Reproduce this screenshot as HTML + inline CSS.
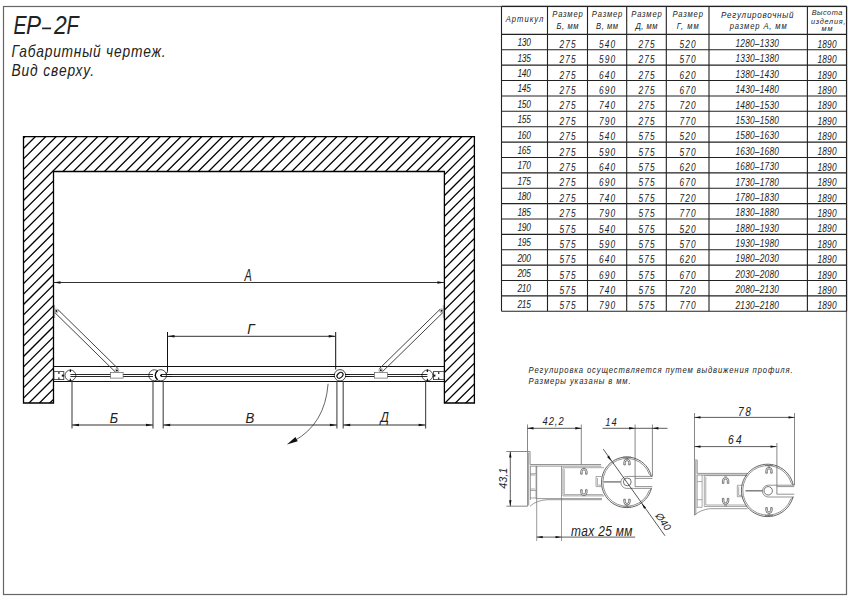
<!DOCTYPE html><html><head><meta charset="utf-8"><style>
html,body{margin:0;padding:0;background:#fff;width:849px;height:600px;overflow:hidden;}
svg{display:block;}
text{font-family:"Liberation Sans", sans-serif;font-style:italic;fill:#222;}
</style></head><body>
<svg width="849" height="600" viewBox="0 0 849 600">
<rect x="3.5" y="6.5" width="843" height="588" fill="none" stroke="#666" stroke-width="1.2"/>
<text x="0" y="0" font-size="25.4" transform="translate(13.41,33.6) scale(0.775,1)">E</text>
<text x="0" y="0" font-size="25.4" transform="translate(26.02,33.6) scale(0.887,1)">P</text>
<text x="0" y="0" font-size="25.4" transform="translate(54.11,33.6) scale(0.903,1)">2</text>
<text x="0" y="0" font-size="25.4" transform="translate(66.40,33.6) scale(0.787,1)">F</text>
<line x1="42.1" y1="28.4" x2="51.1" y2="28.4" stroke="#222" stroke-width="1.7"/>
<text x="0" y="0" font-size="16.2" text-anchor="start" transform="translate(11.5,56.6) scale(0.85,1)" textLength="181.18" lengthAdjust="spacing" >Габаритный чертеж.</text>
<text x="0" y="0" font-size="16.2" text-anchor="start" transform="translate(11.5,76.3) scale(0.85,1)" textLength="97.06" lengthAdjust="spacing" >Вид сверху.</text>
<defs><clipPath id="wc"><path d="M23.5,136.6 L474.4,136.6 L474.4,403.0 L444.4,403.0 L444.4,171.5 L53.5,171.5 L53.5,403.0 L23.5,403.0 Z"/></clipPath></defs>
<path d="M-279.20,420L40.80,100M-268.80,420L51.20,100M-258.40,420L61.60,100M-248.00,420L72.00,100M-237.60,420L82.40,100M-227.20,420L92.80,100M-216.80,420L103.20,100M-206.40,420L113.60,100M-196.00,420L124.00,100M-185.60,420L134.40,100M-175.20,420L144.80,100M-164.80,420L155.20,100M-154.40,420L165.60,100M-144.00,420L176.00,100M-133.60,420L186.40,100M-123.20,420L196.80,100M-112.80,420L207.20,100M-102.40,420L217.60,100M-92.00,420L228.00,100M-81.60,420L238.40,100M-71.20,420L248.80,100M-60.80,420L259.20,100M-50.40,420L269.60,100M-40.00,420L280.00,100M-29.60,420L290.40,100M-19.20,420L300.80,100M-8.80,420L311.20,100M1.60,420L321.60,100M12.00,420L332.00,100M22.40,420L342.40,100M32.80,420L352.80,100M43.20,420L363.20,100M53.60,420L373.60,100M64.00,420L384.00,100M74.40,420L394.40,100M84.80,420L404.80,100M95.20,420L415.20,100M105.60,420L425.60,100M116.00,420L436.00,100M126.40,420L446.40,100M136.80,420L456.80,100M147.20,420L467.20,100M157.60,420L477.60,100M168.00,420L488.00,100M178.40,420L498.40,100M188.80,420L508.80,100M199.20,420L519.20,100M209.60,420L529.60,100M220.00,420L540.00,100M230.40,420L550.40,100M240.80,420L560.80,100M251.20,420L571.20,100M261.60,420L581.60,100M272.00,420L592.00,100M282.40,420L602.40,100M292.80,420L612.80,100M303.20,420L623.20,100M313.60,420L633.60,100M324.00,420L644.00,100M334.40,420L654.40,100M344.80,420L664.80,100M355.20,420L675.20,100M365.60,420L685.60,100M376.00,420L696.00,100M386.40,420L706.40,100M396.80,420L716.80,100M407.20,420L727.20,100M417.60,420L737.60,100M428.00,420L748.00,100M438.40,420L758.40,100M448.80,420L768.80,100M459.20,420L779.20,100M469.60,420L789.60,100" stroke="#000" stroke-width="1.3" clip-path="url(#wc)" fill="none"/>
<path d="M23.5,136.6 L474.4,136.6 L474.4,403.0 L444.4,403.0 L444.4,171.5 L53.5,171.5 L53.5,403.0 L23.5,403.0 Z" fill="none" stroke="#000" stroke-width="1.3"/>
<line x1="53.5" y1="366.5" x2="444.4" y2="366.5" stroke="#111" stroke-width="1.1"/>
<line x1="53.5" y1="381.5" x2="444.4" y2="381.5" stroke="#111" stroke-width="1.1"/>
<path d="M70.4,374.5H427.4M70.4,376.5H427.4" stroke="#111" stroke-width="0.9" fill="none"/>
<rect x="54" y="371.6" width="9.799999999999997" height="8" fill="#fff" stroke="#333" stroke-width="0.8"/>
<path d="M58.9,372V374M58.9,377.5V379.5" stroke="#222" stroke-width="1.2"/>
<path d="M61.8,375.6 L63.8,375.6" stroke="#111" stroke-width="2"/>
<rect x="433.4" y="371.6" width="10.600000000000023" height="8" fill="#fff" stroke="#333" stroke-width="0.8"/>
<path d="M438.7,372V374M438.7,377.5V379.5" stroke="#222" stroke-width="1.2"/>
<path d="M433.4,375.6 L435.4,375.6" stroke="#111" stroke-width="2"/>
<circle cx="70.4" cy="375.4" r="5.4" fill="#fff" stroke="#222" stroke-width="0.8"/>
<path d="M70.4,369.5V372M70.4,378.8V381.3" stroke="#111" stroke-width="1.2"/>
<circle cx="427.4" cy="375.4" r="5.4" fill="#fff" stroke="#222" stroke-width="0.8"/>
<path d="M427.4,369.5V372M427.4,378.8V381.3" stroke="#111" stroke-width="1.2"/>
<path d="M70.4,374.5H76M70.4,376.5H76" stroke="#111" stroke-width="0.9"/>
<path d="M427.4,374.5H421M427.4,376.5H421" stroke="#111" stroke-width="0.9"/>
<circle cx="154.3" cy="375.3" r="5.5" fill="#fff" stroke="#222" stroke-width="0.8"/>
<circle cx="160.8" cy="375.3" r="5.6" fill="#fff" stroke="#222" stroke-width="0.8"/>
<path d="M157.6,370.8 A5.6,5.6 0 0 0 157.6,379.8" stroke="#000" stroke-width="1.3" fill="none"/>
<circle cx="161" cy="375.4" r="1" fill="#000"/>
<path d="M148.8,374.5H153M148.8,376.5H153M161,374.5H172M161,376.5H172" stroke="#111" stroke-width="0.9"/>
<circle cx="340" cy="375.3" r="5.7" fill="#fff" stroke="#222" stroke-width="0.8"/>
<ellipse cx="340" cy="375.3" rx="3.4" ry="2.4" transform="rotate(-40 340 375.3)" fill="#fff" stroke="#111" stroke-width="1.1"/>
<path d="M330,374.5H335M330,376.5H335M345,374.5H350M345,376.5H350" stroke="#111" stroke-width="0.9"/>
<path d="M54.79,312.53L115.39,372.03M57.81,309.47L118.41,368.97" stroke="#444" stroke-width="1" fill="none"/>
<circle cx="56.3" cy="311.0" r="1.9" fill="#fff" stroke="#777" stroke-width="0.6"/>
<circle cx="56.3" cy="311.0" r="1.0" fill="#111"/>
<circle cx="116.9" cy="370.5" r="1.9" fill="#fff" stroke="#777" stroke-width="0.6"/>
<circle cx="116.9" cy="370.5" r="1.0" fill="#111"/>
<path d="M54.6,305V318" stroke="#888" stroke-width="1"/>
<path d="M440.10,309.26L379.30,368.76M443.10,312.34L382.30,371.84" stroke="#444" stroke-width="1" fill="none"/>
<circle cx="441.6" cy="310.8" r="1.9" fill="#fff" stroke="#777" stroke-width="0.6"/>
<circle cx="441.6" cy="310.8" r="1.0" fill="#111"/>
<circle cx="380.8" cy="370.3" r="1.9" fill="#fff" stroke="#777" stroke-width="0.6"/>
<circle cx="380.8" cy="370.3" r="1.0" fill="#111"/>
<path d="M443.4,305V318" stroke="#888" stroke-width="1"/>
<rect x="110.6" y="372.4" width="12.5" height="5.7" fill="#fff" stroke="#666" stroke-width="0.7"/>
<rect x="374.4" y="372.4" width="13" height="5.7" fill="#fff" stroke="#666" stroke-width="0.7"/>
<line x1="53.5" y1="282.5" x2="444.4" y2="282.5" stroke="#333" stroke-width="1"/>
<path d="M53.50,282.50L60.50,281.20L60.50,283.80Z" fill="#111"/>
<path d="M444.40,282.50L437.40,283.80L437.40,281.20Z" fill="#111"/>
<text x="0" y="0" font-size="15.8" transform="translate(244.55,280.8) scale(0.695,1)">A</text>
<line x1="167.5" y1="332" x2="167.5" y2="371.5" stroke="#111" stroke-width="1"/>
<path d="M167.5,371.5 Q167.5,373 166,373.5" stroke="#111" fill="none"/>
<line x1="335.7" y1="332" x2="335.7" y2="369.5" stroke="#111" stroke-width="1"/>
<line x1="167.5" y1="336.3" x2="335.7" y2="336.3" stroke="#333" stroke-width="1"/>
<path d="M167.50,336.30L174.50,335.00L174.50,337.60Z" fill="#111"/>
<path d="M335.70,336.30L328.70,337.60L328.70,335.00Z" fill="#111"/>
<text x="0" y="0" font-size="14.3" transform="translate(247.19,333.7) scale(0.949,1)">Г</text>
<line x1="72.0" y1="381.5" x2="72.0" y2="428.6" stroke="#555" stroke-width="1.2"/>
<line x1="153.0" y1="381.5" x2="153.0" y2="428.6" stroke="#555" stroke-width="1.2"/>
<line x1="163.2" y1="381.5" x2="163.2" y2="428.6" stroke="#555" stroke-width="1.2"/>
<line x1="336.9" y1="381.5" x2="336.9" y2="428.6" stroke="#555" stroke-width="1.2"/>
<line x1="343.2" y1="381.5" x2="343.2" y2="428.6" stroke="#555" stroke-width="1.2"/>
<line x1="425.6" y1="381.5" x2="425.6" y2="428.6" stroke="#555" stroke-width="1.2"/>
<line x1="72.0" y1="425.0" x2="153.0" y2="425.0" stroke="#333" stroke-width="1"/>
<path d="M72.00,425.00L79.00,423.70L79.00,426.30Z" fill="#111"/>
<path d="M153.00,425.00L146.00,426.30L146.00,423.70Z" fill="#111"/>
<line x1="163.2" y1="425.0" x2="336.9" y2="425.0" stroke="#333" stroke-width="1"/>
<path d="M163.20,425.00L170.20,423.70L170.20,426.30Z" fill="#111"/>
<path d="M336.90,425.00L329.90,426.30L329.90,423.70Z" fill="#111"/>
<line x1="343.2" y1="425.0" x2="425.6" y2="425.0" stroke="#333" stroke-width="1"/>
<path d="M343.20,425.00L350.20,423.70L350.20,426.30Z" fill="#111"/>
<path d="M425.60,425.00L418.60,426.30L418.60,423.70Z" fill="#111"/>
<text x="0" y="0" font-size="13.9" transform="translate(109.82,422.6) scale(0.922,1)">Б</text>
<text x="0" y="0" font-size="13.9" transform="translate(245.50,422.6) scale(0.951,1)">В</text>
<text x="0" y="0" font-size="13.9" transform="translate(380.47,421.6) scale(0.856,1)">Д</text>
<path d="M328.1,383.8 Q325,424 294,441" fill="none" stroke="#333" stroke-width="0.75"/>
<path d="M286.90,444.40L295.45,437.12L297.71,441.34Z" fill="#111"/>
<path d="M501.5,6.4V311.3M547.5,6.4V311.3M587.5,6.4V311.3M626.7,6.4V311.3M666.3,6.4V311.3M709.0,6.4V311.3M807.4,6.4V311.3M846.6,6.4V311.3M501.5,6.4H846.6M501.5,34.40H846.6M501.5,49.78H846.6M501.5,65.17H846.6M501.5,80.55H846.6M501.5,95.93H846.6M501.5,111.32H846.6M501.5,126.70H846.6M501.5,142.08H846.6M501.5,157.47H846.6M501.5,172.85H846.6M501.5,188.23H846.6M501.5,203.62H846.6M501.5,219.00H846.6M501.5,234.38H846.6M501.5,249.77H846.6M501.5,265.15H846.6M501.5,280.53H846.6M501.5,295.92H846.6M501.5,311.30H846.6" stroke="#222" stroke-width="1.1" fill="none"/>
<text x="0" y="0" font-size="9" text-anchor="middle" transform="translate(524.50,22.20) scale(0.85,1)" textLength="44.24" lengthAdjust="spacing" >Артикул</text>
<text x="0" y="0" font-size="9" text-anchor="middle" transform="translate(567.50,16.70) scale(0.85,1)" textLength="35.88" lengthAdjust="spacing" >Размер</text>
<text x="0" y="0" font-size="9" text-anchor="middle" transform="translate(567.50,28.50) scale(0.85,1)" textLength="25.88" lengthAdjust="spacing" >Б, мм</text>
<text x="0" y="0" font-size="9" text-anchor="middle" transform="translate(607.10,16.70) scale(0.85,1)" textLength="35.88" lengthAdjust="spacing" >Размер</text>
<text x="0" y="0" font-size="9" text-anchor="middle" transform="translate(607.10,28.50) scale(0.85,1)" textLength="25.88" lengthAdjust="spacing" >В, мм</text>
<text x="0" y="0" font-size="9" text-anchor="middle" transform="translate(646.50,16.70) scale(0.85,1)" textLength="35.88" lengthAdjust="spacing" >Размер</text>
<text x="0" y="0" font-size="9" text-anchor="middle" transform="translate(646.50,28.50) scale(0.85,1)" textLength="25.88" lengthAdjust="spacing" >Д, мм</text>
<text x="0" y="0" font-size="9" text-anchor="middle" transform="translate(687.65,16.70) scale(0.85,1)" textLength="35.88" lengthAdjust="spacing" >Размер</text>
<text x="0" y="0" font-size="9" text-anchor="middle" transform="translate(687.65,28.50) scale(0.85,1)" textLength="25.88" lengthAdjust="spacing" >Г, мм</text>
<text x="0" y="0" font-size="9.5" text-anchor="middle" transform="translate(757.20,17.50) scale(0.85,1)" textLength="85.29" lengthAdjust="spacing" >Регулировочный</text>
<text x="0" y="0" font-size="9" text-anchor="middle" transform="translate(758.20,29.00) scale(0.85,1)" textLength="67.06" lengthAdjust="spacing" >размер А, мм</text>
<text x="0" y="0" font-size="8" text-anchor="middle" transform="translate(827.00,14.9) scale(0.92,1)" textLength="33.15" lengthAdjust="spacing" >Высота</text>
<text x="0" y="0" font-size="8" text-anchor="middle" transform="translate(828.20,23.7) scale(0.92,1)" textLength="37.50" lengthAdjust="spacing" >изделия,</text>
<text x="0" y="0" font-size="8" text-anchor="middle" transform="translate(827.00,31.2) scale(0.92,1)" textLength="11.96" lengthAdjust="spacing" >мм</text>
<text x="0" y="0" font-size="10.2" text-anchor="middle" transform="translate(524.20,46.30) scale(0.82,1)" textLength="16.59" lengthAdjust="spacing">130</text>
<text x="0" y="0" font-size="10.2" text-anchor="middle" transform="translate(567.50,47.90) scale(0.82,1)" textLength="19.76" lengthAdjust="spacing">275</text>
<text x="0" y="0" font-size="10.2" text-anchor="middle" transform="translate(607.10,47.90) scale(0.82,1)" textLength="19.76" lengthAdjust="spacing">540</text>
<text x="0" y="0" font-size="10.2" text-anchor="middle" transform="translate(646.50,47.90) scale(0.82,1)" textLength="19.76" lengthAdjust="spacing">275</text>
<text x="0" y="0" font-size="10.2" text-anchor="middle" transform="translate(687.65,47.90) scale(0.82,1)" textLength="19.76" lengthAdjust="spacing">520</text>
<text x="0" y="0" font-size="10.2" text-anchor="middle" transform="translate(757.20,47.10) scale(0.82,1)" textLength="52.93" lengthAdjust="spacing">1280–1330</text>
<text x="0" y="0" font-size="10.2" text-anchor="middle" transform="translate(827.00,47.80) scale(0.82,1)" textLength="23.41" lengthAdjust="spacing">1890</text>
<text x="0" y="0" font-size="10.2" text-anchor="middle" transform="translate(524.20,61.68) scale(0.82,1)" textLength="16.59" lengthAdjust="spacing">135</text>
<text x="0" y="0" font-size="10.2" text-anchor="middle" transform="translate(567.50,63.28) scale(0.82,1)" textLength="19.76" lengthAdjust="spacing">275</text>
<text x="0" y="0" font-size="10.2" text-anchor="middle" transform="translate(607.10,63.28) scale(0.82,1)" textLength="19.76" lengthAdjust="spacing">590</text>
<text x="0" y="0" font-size="10.2" text-anchor="middle" transform="translate(646.50,63.28) scale(0.82,1)" textLength="19.76" lengthAdjust="spacing">275</text>
<text x="0" y="0" font-size="10.2" text-anchor="middle" transform="translate(687.65,63.28) scale(0.82,1)" textLength="19.76" lengthAdjust="spacing">570</text>
<text x="0" y="0" font-size="10.2" text-anchor="middle" transform="translate(757.20,62.48) scale(0.82,1)" textLength="52.93" lengthAdjust="spacing">1330–1380</text>
<text x="0" y="0" font-size="10.2" text-anchor="middle" transform="translate(827.00,63.18) scale(0.82,1)" textLength="23.41" lengthAdjust="spacing">1890</text>
<text x="0" y="0" font-size="10.2" text-anchor="middle" transform="translate(524.20,77.07) scale(0.82,1)" textLength="16.59" lengthAdjust="spacing">140</text>
<text x="0" y="0" font-size="10.2" text-anchor="middle" transform="translate(567.50,78.67) scale(0.82,1)" textLength="19.76" lengthAdjust="spacing">275</text>
<text x="0" y="0" font-size="10.2" text-anchor="middle" transform="translate(607.10,78.67) scale(0.82,1)" textLength="19.76" lengthAdjust="spacing">640</text>
<text x="0" y="0" font-size="10.2" text-anchor="middle" transform="translate(646.50,78.67) scale(0.82,1)" textLength="19.76" lengthAdjust="spacing">275</text>
<text x="0" y="0" font-size="10.2" text-anchor="middle" transform="translate(687.65,78.67) scale(0.82,1)" textLength="19.76" lengthAdjust="spacing">620</text>
<text x="0" y="0" font-size="10.2" text-anchor="middle" transform="translate(757.20,77.87) scale(0.82,1)" textLength="52.93" lengthAdjust="spacing">1380–1430</text>
<text x="0" y="0" font-size="10.2" text-anchor="middle" transform="translate(827.00,78.57) scale(0.82,1)" textLength="23.41" lengthAdjust="spacing">1890</text>
<text x="0" y="0" font-size="10.2" text-anchor="middle" transform="translate(524.20,92.45) scale(0.82,1)" textLength="16.59" lengthAdjust="spacing">145</text>
<text x="0" y="0" font-size="10.2" text-anchor="middle" transform="translate(567.50,94.05) scale(0.82,1)" textLength="19.76" lengthAdjust="spacing">275</text>
<text x="0" y="0" font-size="10.2" text-anchor="middle" transform="translate(607.10,94.05) scale(0.82,1)" textLength="19.76" lengthAdjust="spacing">690</text>
<text x="0" y="0" font-size="10.2" text-anchor="middle" transform="translate(646.50,94.05) scale(0.82,1)" textLength="19.76" lengthAdjust="spacing">275</text>
<text x="0" y="0" font-size="10.2" text-anchor="middle" transform="translate(687.65,94.05) scale(0.82,1)" textLength="19.76" lengthAdjust="spacing">670</text>
<text x="0" y="0" font-size="10.2" text-anchor="middle" transform="translate(757.20,93.25) scale(0.82,1)" textLength="52.93" lengthAdjust="spacing">1430–1480</text>
<text x="0" y="0" font-size="10.2" text-anchor="middle" transform="translate(827.00,93.95) scale(0.82,1)" textLength="23.41" lengthAdjust="spacing">1890</text>
<text x="0" y="0" font-size="10.2" text-anchor="middle" transform="translate(524.20,107.83) scale(0.82,1)" textLength="16.59" lengthAdjust="spacing">150</text>
<text x="0" y="0" font-size="10.2" text-anchor="middle" transform="translate(567.50,109.43) scale(0.82,1)" textLength="19.76" lengthAdjust="spacing">275</text>
<text x="0" y="0" font-size="10.2" text-anchor="middle" transform="translate(607.10,109.43) scale(0.82,1)" textLength="19.76" lengthAdjust="spacing">740</text>
<text x="0" y="0" font-size="10.2" text-anchor="middle" transform="translate(646.50,109.43) scale(0.82,1)" textLength="19.76" lengthAdjust="spacing">275</text>
<text x="0" y="0" font-size="10.2" text-anchor="middle" transform="translate(687.65,109.43) scale(0.82,1)" textLength="19.76" lengthAdjust="spacing">720</text>
<text x="0" y="0" font-size="10.2" text-anchor="middle" transform="translate(757.20,108.63) scale(0.82,1)" textLength="52.93" lengthAdjust="spacing">1480–1530</text>
<text x="0" y="0" font-size="10.2" text-anchor="middle" transform="translate(827.00,109.33) scale(0.82,1)" textLength="23.41" lengthAdjust="spacing">1890</text>
<text x="0" y="0" font-size="10.2" text-anchor="middle" transform="translate(524.20,123.22) scale(0.82,1)" textLength="16.59" lengthAdjust="spacing">155</text>
<text x="0" y="0" font-size="10.2" text-anchor="middle" transform="translate(567.50,124.82) scale(0.82,1)" textLength="19.76" lengthAdjust="spacing">275</text>
<text x="0" y="0" font-size="10.2" text-anchor="middle" transform="translate(607.10,124.82) scale(0.82,1)" textLength="19.76" lengthAdjust="spacing">790</text>
<text x="0" y="0" font-size="10.2" text-anchor="middle" transform="translate(646.50,124.82) scale(0.82,1)" textLength="19.76" lengthAdjust="spacing">275</text>
<text x="0" y="0" font-size="10.2" text-anchor="middle" transform="translate(687.65,124.82) scale(0.82,1)" textLength="19.76" lengthAdjust="spacing">770</text>
<text x="0" y="0" font-size="10.2" text-anchor="middle" transform="translate(757.20,124.02) scale(0.82,1)" textLength="52.93" lengthAdjust="spacing">1530–1580</text>
<text x="0" y="0" font-size="10.2" text-anchor="middle" transform="translate(827.00,124.72) scale(0.82,1)" textLength="23.41" lengthAdjust="spacing">1890</text>
<text x="0" y="0" font-size="10.2" text-anchor="middle" transform="translate(524.20,138.60) scale(0.82,1)" textLength="16.59" lengthAdjust="spacing">160</text>
<text x="0" y="0" font-size="10.2" text-anchor="middle" transform="translate(567.50,140.20) scale(0.82,1)" textLength="19.76" lengthAdjust="spacing">275</text>
<text x="0" y="0" font-size="10.2" text-anchor="middle" transform="translate(607.10,140.20) scale(0.82,1)" textLength="19.76" lengthAdjust="spacing">540</text>
<text x="0" y="0" font-size="10.2" text-anchor="middle" transform="translate(646.50,140.20) scale(0.82,1)" textLength="19.76" lengthAdjust="spacing">575</text>
<text x="0" y="0" font-size="10.2" text-anchor="middle" transform="translate(687.65,140.20) scale(0.82,1)" textLength="19.76" lengthAdjust="spacing">520</text>
<text x="0" y="0" font-size="10.2" text-anchor="middle" transform="translate(757.20,139.40) scale(0.82,1)" textLength="52.93" lengthAdjust="spacing">1580–1630</text>
<text x="0" y="0" font-size="10.2" text-anchor="middle" transform="translate(827.00,140.10) scale(0.82,1)" textLength="23.41" lengthAdjust="spacing">1890</text>
<text x="0" y="0" font-size="10.2" text-anchor="middle" transform="translate(524.20,153.98) scale(0.82,1)" textLength="16.59" lengthAdjust="spacing">165</text>
<text x="0" y="0" font-size="10.2" text-anchor="middle" transform="translate(567.50,155.58) scale(0.82,1)" textLength="19.76" lengthAdjust="spacing">275</text>
<text x="0" y="0" font-size="10.2" text-anchor="middle" transform="translate(607.10,155.58) scale(0.82,1)" textLength="19.76" lengthAdjust="spacing">590</text>
<text x="0" y="0" font-size="10.2" text-anchor="middle" transform="translate(646.50,155.58) scale(0.82,1)" textLength="19.76" lengthAdjust="spacing">575</text>
<text x="0" y="0" font-size="10.2" text-anchor="middle" transform="translate(687.65,155.58) scale(0.82,1)" textLength="19.76" lengthAdjust="spacing">570</text>
<text x="0" y="0" font-size="10.2" text-anchor="middle" transform="translate(757.20,154.78) scale(0.82,1)" textLength="52.93" lengthAdjust="spacing">1630–1680</text>
<text x="0" y="0" font-size="10.2" text-anchor="middle" transform="translate(827.00,155.48) scale(0.82,1)" textLength="23.41" lengthAdjust="spacing">1890</text>
<text x="0" y="0" font-size="10.2" text-anchor="middle" transform="translate(524.20,169.37) scale(0.82,1)" textLength="16.59" lengthAdjust="spacing">170</text>
<text x="0" y="0" font-size="10.2" text-anchor="middle" transform="translate(567.50,170.97) scale(0.82,1)" textLength="19.76" lengthAdjust="spacing">275</text>
<text x="0" y="0" font-size="10.2" text-anchor="middle" transform="translate(607.10,170.97) scale(0.82,1)" textLength="19.76" lengthAdjust="spacing">640</text>
<text x="0" y="0" font-size="10.2" text-anchor="middle" transform="translate(646.50,170.97) scale(0.82,1)" textLength="19.76" lengthAdjust="spacing">575</text>
<text x="0" y="0" font-size="10.2" text-anchor="middle" transform="translate(687.65,170.97) scale(0.82,1)" textLength="19.76" lengthAdjust="spacing">620</text>
<text x="0" y="0" font-size="10.2" text-anchor="middle" transform="translate(757.20,170.17) scale(0.82,1)" textLength="52.93" lengthAdjust="spacing">1680–1730</text>
<text x="0" y="0" font-size="10.2" text-anchor="middle" transform="translate(827.00,170.87) scale(0.82,1)" textLength="23.41" lengthAdjust="spacing">1890</text>
<text x="0" y="0" font-size="10.2" text-anchor="middle" transform="translate(524.20,184.75) scale(0.82,1)" textLength="16.59" lengthAdjust="spacing">175</text>
<text x="0" y="0" font-size="10.2" text-anchor="middle" transform="translate(567.50,186.35) scale(0.82,1)" textLength="19.76" lengthAdjust="spacing">275</text>
<text x="0" y="0" font-size="10.2" text-anchor="middle" transform="translate(607.10,186.35) scale(0.82,1)" textLength="19.76" lengthAdjust="spacing">690</text>
<text x="0" y="0" font-size="10.2" text-anchor="middle" transform="translate(646.50,186.35) scale(0.82,1)" textLength="19.76" lengthAdjust="spacing">575</text>
<text x="0" y="0" font-size="10.2" text-anchor="middle" transform="translate(687.65,186.35) scale(0.82,1)" textLength="19.76" lengthAdjust="spacing">670</text>
<text x="0" y="0" font-size="10.2" text-anchor="middle" transform="translate(757.20,185.55) scale(0.82,1)" textLength="52.93" lengthAdjust="spacing">1730–1780</text>
<text x="0" y="0" font-size="10.2" text-anchor="middle" transform="translate(827.00,186.25) scale(0.82,1)" textLength="23.41" lengthAdjust="spacing">1890</text>
<text x="0" y="0" font-size="10.2" text-anchor="middle" transform="translate(524.20,200.13) scale(0.82,1)" textLength="16.59" lengthAdjust="spacing">180</text>
<text x="0" y="0" font-size="10.2" text-anchor="middle" transform="translate(567.50,201.73) scale(0.82,1)" textLength="19.76" lengthAdjust="spacing">275</text>
<text x="0" y="0" font-size="10.2" text-anchor="middle" transform="translate(607.10,201.73) scale(0.82,1)" textLength="19.76" lengthAdjust="spacing">740</text>
<text x="0" y="0" font-size="10.2" text-anchor="middle" transform="translate(646.50,201.73) scale(0.82,1)" textLength="19.76" lengthAdjust="spacing">575</text>
<text x="0" y="0" font-size="10.2" text-anchor="middle" transform="translate(687.65,201.73) scale(0.82,1)" textLength="19.76" lengthAdjust="spacing">720</text>
<text x="0" y="0" font-size="10.2" text-anchor="middle" transform="translate(757.20,200.93) scale(0.82,1)" textLength="52.93" lengthAdjust="spacing">1780–1830</text>
<text x="0" y="0" font-size="10.2" text-anchor="middle" transform="translate(827.00,201.63) scale(0.82,1)" textLength="23.41" lengthAdjust="spacing">1890</text>
<text x="0" y="0" font-size="10.2" text-anchor="middle" transform="translate(524.20,215.52) scale(0.82,1)" textLength="16.59" lengthAdjust="spacing">185</text>
<text x="0" y="0" font-size="10.2" text-anchor="middle" transform="translate(567.50,217.12) scale(0.82,1)" textLength="19.76" lengthAdjust="spacing">275</text>
<text x="0" y="0" font-size="10.2" text-anchor="middle" transform="translate(607.10,217.12) scale(0.82,1)" textLength="19.76" lengthAdjust="spacing">790</text>
<text x="0" y="0" font-size="10.2" text-anchor="middle" transform="translate(646.50,217.12) scale(0.82,1)" textLength="19.76" lengthAdjust="spacing">575</text>
<text x="0" y="0" font-size="10.2" text-anchor="middle" transform="translate(687.65,217.12) scale(0.82,1)" textLength="19.76" lengthAdjust="spacing">770</text>
<text x="0" y="0" font-size="10.2" text-anchor="middle" transform="translate(757.20,216.32) scale(0.82,1)" textLength="52.93" lengthAdjust="spacing">1830–1880</text>
<text x="0" y="0" font-size="10.2" text-anchor="middle" transform="translate(827.00,217.02) scale(0.82,1)" textLength="23.41" lengthAdjust="spacing">1890</text>
<text x="0" y="0" font-size="10.2" text-anchor="middle" transform="translate(524.20,230.90) scale(0.82,1)" textLength="16.59" lengthAdjust="spacing">190</text>
<text x="0" y="0" font-size="10.2" text-anchor="middle" transform="translate(567.50,232.50) scale(0.82,1)" textLength="19.76" lengthAdjust="spacing">575</text>
<text x="0" y="0" font-size="10.2" text-anchor="middle" transform="translate(607.10,232.50) scale(0.82,1)" textLength="19.76" lengthAdjust="spacing">540</text>
<text x="0" y="0" font-size="10.2" text-anchor="middle" transform="translate(646.50,232.50) scale(0.82,1)" textLength="19.76" lengthAdjust="spacing">575</text>
<text x="0" y="0" font-size="10.2" text-anchor="middle" transform="translate(687.65,232.50) scale(0.82,1)" textLength="19.76" lengthAdjust="spacing">520</text>
<text x="0" y="0" font-size="10.2" text-anchor="middle" transform="translate(757.20,231.70) scale(0.82,1)" textLength="52.93" lengthAdjust="spacing">1880–1930</text>
<text x="0" y="0" font-size="10.2" text-anchor="middle" transform="translate(827.00,232.40) scale(0.82,1)" textLength="23.41" lengthAdjust="spacing">1890</text>
<text x="0" y="0" font-size="10.2" text-anchor="middle" transform="translate(524.20,246.28) scale(0.82,1)" textLength="16.59" lengthAdjust="spacing">195</text>
<text x="0" y="0" font-size="10.2" text-anchor="middle" transform="translate(567.50,247.88) scale(0.82,1)" textLength="19.76" lengthAdjust="spacing">575</text>
<text x="0" y="0" font-size="10.2" text-anchor="middle" transform="translate(607.10,247.88) scale(0.82,1)" textLength="19.76" lengthAdjust="spacing">590</text>
<text x="0" y="0" font-size="10.2" text-anchor="middle" transform="translate(646.50,247.88) scale(0.82,1)" textLength="19.76" lengthAdjust="spacing">575</text>
<text x="0" y="0" font-size="10.2" text-anchor="middle" transform="translate(687.65,247.88) scale(0.82,1)" textLength="19.76" lengthAdjust="spacing">570</text>
<text x="0" y="0" font-size="10.2" text-anchor="middle" transform="translate(757.20,247.08) scale(0.82,1)" textLength="52.93" lengthAdjust="spacing">1930–1980</text>
<text x="0" y="0" font-size="10.2" text-anchor="middle" transform="translate(827.00,247.78) scale(0.82,1)" textLength="23.41" lengthAdjust="spacing">1890</text>
<text x="0" y="0" font-size="10.2" text-anchor="middle" transform="translate(524.20,261.67) scale(0.82,1)" textLength="16.59" lengthAdjust="spacing">200</text>
<text x="0" y="0" font-size="10.2" text-anchor="middle" transform="translate(567.50,263.27) scale(0.82,1)" textLength="19.76" lengthAdjust="spacing">575</text>
<text x="0" y="0" font-size="10.2" text-anchor="middle" transform="translate(607.10,263.27) scale(0.82,1)" textLength="19.76" lengthAdjust="spacing">640</text>
<text x="0" y="0" font-size="10.2" text-anchor="middle" transform="translate(646.50,263.27) scale(0.82,1)" textLength="19.76" lengthAdjust="spacing">575</text>
<text x="0" y="0" font-size="10.2" text-anchor="middle" transform="translate(687.65,263.27) scale(0.82,1)" textLength="19.76" lengthAdjust="spacing">620</text>
<text x="0" y="0" font-size="10.2" text-anchor="middle" transform="translate(757.20,262.47) scale(0.82,1)" textLength="52.93" lengthAdjust="spacing">1980–2030</text>
<text x="0" y="0" font-size="10.2" text-anchor="middle" transform="translate(827.00,263.17) scale(0.82,1)" textLength="23.41" lengthAdjust="spacing">1890</text>
<text x="0" y="0" font-size="10.2" text-anchor="middle" transform="translate(524.20,277.05) scale(0.82,1)" textLength="16.59" lengthAdjust="spacing">205</text>
<text x="0" y="0" font-size="10.2" text-anchor="middle" transform="translate(567.50,278.65) scale(0.82,1)" textLength="19.76" lengthAdjust="spacing">575</text>
<text x="0" y="0" font-size="10.2" text-anchor="middle" transform="translate(607.10,278.65) scale(0.82,1)" textLength="19.76" lengthAdjust="spacing">690</text>
<text x="0" y="0" font-size="10.2" text-anchor="middle" transform="translate(646.50,278.65) scale(0.82,1)" textLength="19.76" lengthAdjust="spacing">575</text>
<text x="0" y="0" font-size="10.2" text-anchor="middle" transform="translate(687.65,278.65) scale(0.82,1)" textLength="19.76" lengthAdjust="spacing">670</text>
<text x="0" y="0" font-size="10.2" text-anchor="middle" transform="translate(757.20,277.85) scale(0.82,1)" textLength="52.93" lengthAdjust="spacing">2030–2080</text>
<text x="0" y="0" font-size="10.2" text-anchor="middle" transform="translate(827.00,278.55) scale(0.82,1)" textLength="23.41" lengthAdjust="spacing">1890</text>
<text x="0" y="0" font-size="10.2" text-anchor="middle" transform="translate(524.20,292.43) scale(0.82,1)" textLength="16.59" lengthAdjust="spacing">210</text>
<text x="0" y="0" font-size="10.2" text-anchor="middle" transform="translate(567.50,294.03) scale(0.82,1)" textLength="19.76" lengthAdjust="spacing">575</text>
<text x="0" y="0" font-size="10.2" text-anchor="middle" transform="translate(607.10,294.03) scale(0.82,1)" textLength="19.76" lengthAdjust="spacing">740</text>
<text x="0" y="0" font-size="10.2" text-anchor="middle" transform="translate(646.50,294.03) scale(0.82,1)" textLength="19.76" lengthAdjust="spacing">575</text>
<text x="0" y="0" font-size="10.2" text-anchor="middle" transform="translate(687.65,294.03) scale(0.82,1)" textLength="19.76" lengthAdjust="spacing">720</text>
<text x="0" y="0" font-size="10.2" text-anchor="middle" transform="translate(757.20,293.23) scale(0.82,1)" textLength="52.93" lengthAdjust="spacing">2080–2130</text>
<text x="0" y="0" font-size="10.2" text-anchor="middle" transform="translate(827.00,293.93) scale(0.82,1)" textLength="23.41" lengthAdjust="spacing">1890</text>
<text x="0" y="0" font-size="10.2" text-anchor="middle" transform="translate(524.20,307.82) scale(0.82,1)" textLength="16.59" lengthAdjust="spacing">215</text>
<text x="0" y="0" font-size="10.2" text-anchor="middle" transform="translate(567.50,309.42) scale(0.82,1)" textLength="19.76" lengthAdjust="spacing">575</text>
<text x="0" y="0" font-size="10.2" text-anchor="middle" transform="translate(607.10,309.42) scale(0.82,1)" textLength="19.76" lengthAdjust="spacing">790</text>
<text x="0" y="0" font-size="10.2" text-anchor="middle" transform="translate(646.50,309.42) scale(0.82,1)" textLength="19.76" lengthAdjust="spacing">575</text>
<text x="0" y="0" font-size="10.2" text-anchor="middle" transform="translate(687.65,309.42) scale(0.82,1)" textLength="19.76" lengthAdjust="spacing">770</text>
<text x="0" y="0" font-size="10.2" text-anchor="middle" transform="translate(757.20,308.62) scale(0.82,1)" textLength="52.93" lengthAdjust="spacing">2130–2180</text>
<text x="0" y="0" font-size="10.2" text-anchor="middle" transform="translate(827.00,309.32) scale(0.82,1)" textLength="23.41" lengthAdjust="spacing">1890</text>
<text x="0" y="0" font-size="9" text-anchor="start" transform="translate(528.6,372.9) scale(0.85,1)" textLength="310.59" lengthAdjust="spacing" >Регулировка осуществляется путем выдвижения профиля.</text>
<text x="0" y="0" font-size="9" text-anchor="start" transform="translate(528.6,383.9) scale(0.85,1)" textLength="120.00" lengthAdjust="spacing" >Размеры указаны в мм.</text>
<line x1="527.5" y1="424.5" x2="527.5" y2="451.5" stroke="#555" stroke-width="0.7"/>
<line x1="581.3" y1="424.5" x2="581.3" y2="464.5" stroke="#555" stroke-width="0.7"/>
<line x1="527.5" y1="428.3" x2="581.3" y2="428.3" stroke="#333" stroke-width="0.8"/>
<path d="M527.50,428.30L533.50,427.10L533.50,429.50Z" fill="#111"/>
<path d="M581.30,428.30L575.30,429.50L575.30,427.10Z" fill="#111"/>
<text x="0" y="0" font-size="11" text-anchor="middle" transform="translate(553.1,425) scale(0.85,1)" textLength="24.71" lengthAdjust="spacing" >42,2</text>
<line x1="635.1" y1="424.5" x2="635.1" y2="486.6" stroke="#555" stroke-width="0.7"/>
<line x1="652.4" y1="424.5" x2="652.4" y2="476.4" stroke="#555" stroke-width="0.7"/>
<line x1="602.5" y1="428.3" x2="667.5" y2="428.3" stroke="#333" stroke-width="0.8"/>
<path d="M635.10,428.30L629.10,429.50L629.10,427.10Z" fill="#111"/>
<path d="M652.40,428.30L658.40,427.10L658.40,429.50Z" fill="#111"/>
<text x="0" y="0" font-size="11" text-anchor="middle" transform="translate(610.9,425.6) scale(0.85,1)" textLength="13.53" lengthAdjust="spacing" >14</text>
<line x1="510.3" y1="451.5" x2="510.3" y2="506.2" stroke="#333" stroke-width="0.8"/>
<path d="M510.30,451.50L511.50,457.50L509.10,457.50Z" fill="#111"/>
<path d="M510.30,506.20L509.10,500.20L511.50,500.20Z" fill="#111"/>
<line x1="506.3" y1="451.5" x2="527.5" y2="451.5" stroke="#555" stroke-width="0.7"/>
<line x1="506.3" y1="506.2" x2="527.5" y2="506.2" stroke="#555" stroke-width="0.7"/>
<text x="0" y="0" font-size="11" text-anchor="middle" transform="translate(507,478.2) rotate(-90)" textLength="21" lengthAdjust="spacingAndGlyphs">43,1</text>
<path d="M527.5,451.5 V506.2 M528.7,452.5 V505.5 M530.1,451.5 V464.5 M527.5,451.5 H530.1" fill="none" stroke="#707070" stroke-width="0.75"/>
<path d="M530.1,464.5 H601 M530.1,466.1 H601.5" fill="none" stroke="#707070" stroke-width="0.75"/>
<path d="M530.4,466.1 V500 M536.1,466.1 V498.6 M536.7,466.1 V541 M561.5,466.1 V541" fill="none" stroke="#707070" stroke-width="0.7"/>
<path d="M530.4,473.7 H536.1 M530.4,490.5 H536.1 M530.4,498 H536.1 M530.4,475 H535 M530.4,489 H535" fill="none" stroke="#707070" stroke-width="0.6"/>
<path d="M562.9,467.7 H604 M562.9,467.7 V495.9 H604 M564.2,469 V494.6 H603" fill="none" stroke="#707070" stroke-width="0.6"/>
<path d="M530.1,506.2 Q536,500.5 546.9,499.7 H602 M536.1,498.6 H602" fill="none" stroke="#707070" stroke-width="0.7"/>
<path d="M583.1999999999999,467.7 V468.40000000000003 M584.6,467.7 V468.40000000000003" fill="none" stroke="#666" stroke-width="0.6"/>
<path d="M580.6999999999999,474.20000000000005 V471.6 A3.2,3.2 0 0 1 587.1,471.6 V474.20000000000005 H585.6 V471.6 A1.7,1.7 0 0 0 582.1999999999999,471.6 V474.20000000000005 Z" fill="#fff" stroke="#444" stroke-width="0.7"/>
<path d="M583.1999999999999,496.2 V495.5 M584.6,496.2 V495.5" fill="none" stroke="#666" stroke-width="0.6"/>
<path d="M580.6999999999999,489.7 V492.3 A3.2,3.2 0 0 0 587.1,492.3 V489.7 H585.6 V492.3 A1.7,1.7 0 0 1 582.1999999999999,492.3 V489.7 Z" fill="#fff" stroke="#444" stroke-width="0.7"/>
<path d="M596,476.5 H601.5 M596,476.5 V486.6 H601.5 M597.4,478 V485.2 H601" fill="none" stroke="#707070" stroke-width="0.6"/>
<path d="M651.40,476.4 A25.3,25.3 0 1 0 651.35,488.4" fill="none" stroke="#4a4a4a" stroke-width="0.85"/>
<path d="M649.43,474.6 A23.9,23.9 0 1 0 649.36,490.2 M649.7,474.6 L651.6,476.4 M649.7,490.2 L651.5,488.4" fill="none" stroke="#666" stroke-width="0.7"/>
<path d="M652.4,476.4 H626.8 A6,6 0 0 0 626.8,488.4 H652 M652.4,478.4 H635.1 M652.4,486.6 H635.1" fill="none" stroke="#707070" stroke-width="0.75"/>
<circle cx="627.3" cy="481.9" r="3.9" fill="none" stroke="#444" stroke-width="0.75"/>
<path d="M603.5,481.9 H620.8" fill="none" stroke="#777" stroke-width="1.4"/>
<path d="M623,457.1 H631" fill="none" stroke="#666" stroke-width="0.8"/>
<path d="M626.3,457.1 V459.1 M627.7,457.1 V459.1" fill="none" stroke="#666" stroke-width="0.6"/>
<path d="M623.8,464.90000000000003 V462.3 A3.2,3.2 0 0 1 630.2,462.3 V464.90000000000003 H628.7 V462.3 A1.7,1.7 0 0 0 625.3,462.3 V464.90000000000003 Z" fill="#fff" stroke="#444" stroke-width="0.7"/>
<path d="M623,507.0 H631" fill="none" stroke="#666" stroke-width="0.8"/>
<path d="M626.3,507.0 V505.0 M627.7,507.0 V505.0" fill="none" stroke="#666" stroke-width="0.6"/>
<path d="M623.8,499.2 V501.8 A3.2,3.2 0 0 0 630.2,501.8 V499.2 H628.7 V501.8 A1.7,1.7 0 0 1 625.3,501.8 V499.2 Z" fill="#fff" stroke="#444" stroke-width="0.7"/>
<path d="M603.3,449.2 L665,535.8" fill="none" stroke="#222" stroke-width="0.75"/>
<path d="M611.50,461.20L607.04,457.01L609.00,455.62Z" fill="#111"/>
<path d="M641.60,503.20L646.06,507.39L644.10,508.78Z" fill="#111"/>
<text x="0" y="0" font-size="10" text-anchor="middle" transform="translate(660.5,523.5) rotate(54.5)" textLength="19" lengthAdjust="spacingAndGlyphs">Ø40</text>
<line x1="536.7" y1="537.1" x2="635.2" y2="537.1" stroke="#333" stroke-width="0.8"/>
<path d="M536.70,537.10L542.70,535.90L542.70,538.30Z" fill="#111"/>
<path d="M561.50,537.10L555.50,538.30L555.50,535.90Z" fill="#111"/>
<text x="0" y="0" font-size="14" text-anchor="start" transform="translate(571,536) scale(0.85,1)" textLength="72.35" lengthAdjust="spacing" >max 25 мм</text>
<line x1="694.5" y1="413" x2="694.5" y2="460" stroke="#555" stroke-width="0.7"/>
<line x1="794.5" y1="413" x2="794.5" y2="485.2" stroke="#555" stroke-width="0.7"/>
<line x1="776.9" y1="443" x2="776.9" y2="494.2" stroke="#555" stroke-width="0.7"/>
<line x1="694.5" y1="417.4" x2="794.5" y2="417.4" stroke="#333" stroke-width="0.8"/>
<path d="M694.50,417.40L700.50,416.20L700.50,418.60Z" fill="#111"/>
<path d="M794.50,417.40L788.50,418.60L788.50,416.20Z" fill="#111"/>
<text x="0" y="0" font-size="12" text-anchor="middle" transform="translate(744.5,415.6) scale(0.85,1)" textLength="15.29" lengthAdjust="spacing" >78</text>
<line x1="694.5" y1="446.6" x2="776.5" y2="446.6" stroke="#333" stroke-width="0.8"/>
<path d="M694.50,446.60L700.50,445.40L700.50,447.80Z" fill="#111"/>
<path d="M776.50,446.60L770.50,447.80L770.50,445.40Z" fill="#111"/>
<text x="0" y="0" font-size="12" text-anchor="middle" transform="translate(734.8,444.4) scale(0.85,1)" textLength="16.00" lengthAdjust="spacing" >64</text>
<path d="M694.5,460 V515.2 M695.8,461 V514.5 M697.2,460 V473.4 M694.5,460 H697.2" fill="none" stroke="#707070" stroke-width="0.75"/>
<path d="M697.2,473.4 H747.5 M697.2,475 H747" fill="none" stroke="#707070" stroke-width="0.75"/>
<path d="M697.2,475 V508 M702.1,475 V507.3" fill="none" stroke="#707070" stroke-width="0.6"/>
<path d="M697.2,481.6 H702.1 M697.2,499.7 H702.1 M697.2,507.3 H702.1" fill="none" stroke="#707070" stroke-width="0.6"/>
<path d="M704.3,475.6 V506.5 H747 M705.8,477 V505 H746 M704.3,475.6 H747" fill="none" stroke="#707070" stroke-width="0.6"/>
<path d="M694.5,515.2 Q700,510 709.7,508.7 H747.5" fill="none" stroke="#707070" stroke-width="0.7"/>
<path d="M724.9,475.6 V477.6 M726.3000000000001,475.6 V477.6" fill="none" stroke="#666" stroke-width="0.6"/>
<path d="M722.4,483.40000000000003 V480.8 A3.2,3.2 0 0 1 728.8000000000001,480.8 V483.40000000000003 H727.3000000000001 V480.8 A1.7,1.7 0 0 0 723.9,480.8 V483.40000000000003 Z" fill="#fff" stroke="#444" stroke-width="0.7"/>
<path d="M724.9,506.5 V504.2 M726.3000000000001,506.5 V504.2" fill="none" stroke="#666" stroke-width="0.6"/>
<path d="M722.4,498.4 V501.0 A3.2,3.2 0 0 0 728.8000000000001,501.0 V498.4 H727.3000000000001 V501.0 A1.7,1.7 0 0 1 723.9,501.0 V498.4 Z" fill="#fff" stroke="#444" stroke-width="0.7"/>
<path d="M737.3,485.3 H742.5 M737.3,485.3 V496.7 H742.5 M738.7,486.7 V495.3 H742" fill="none" stroke="#707070" stroke-width="0.6"/>
<path d="M793.28,485.2 A26.2,26.2 0 1 0 792.96,497.0" fill="none" stroke="#4a4a4a" stroke-width="0.85"/>
<path d="M791.39,483.4 A24.8,24.8 0 1 0 790.93,498.8 M791.4,483.4 L793.4,485.2 M791.3,498.8 L793.2,497" fill="none" stroke="#666" stroke-width="0.7"/>
<path d="M794.2,485.2 H768.3 A5.9,5.9 0 0 0 768.3,497 H794 M794.2,486.6 H776.9 M794.2,494.2 H776.9" fill="none" stroke="#707070" stroke-width="0.75"/>
<circle cx="768.2" cy="490.8" r="4.2" fill="none" stroke="#444" stroke-width="0.75"/>
<path d="M745.5,490.8 H762.4" fill="none" stroke="#777" stroke-width="1.4"/>
<path d="M765,465.40000000000003 H773" fill="none" stroke="#666" stroke-width="0.8"/>
<path d="M768.3,465.40000000000003 V467.40000000000003 M769.7,465.40000000000003 V467.40000000000003" fill="none" stroke="#666" stroke-width="0.6"/>
<path d="M765.8,473.20000000000005 V470.6 A3.2,3.2 0 0 1 772.2,470.6 V473.20000000000005 H770.7 V470.6 A1.7,1.7 0 0 0 767.3,470.6 V473.20000000000005 Z" fill="#fff" stroke="#444" stroke-width="0.7"/>
<path d="M765,515.4 H773" fill="none" stroke="#666" stroke-width="0.8"/>
<path d="M768.3,515.4 V513.4 M769.7,515.4 V513.4" fill="none" stroke="#666" stroke-width="0.6"/>
<path d="M765.8,507.59999999999997 V510.2 A3.2,3.2 0 0 0 772.2,510.2 V507.59999999999997 H770.7 V510.2 A1.7,1.7 0 0 1 767.3,510.2 V507.59999999999997 Z" fill="#fff" stroke="#444" stroke-width="0.7"/>
</svg></body></html>
